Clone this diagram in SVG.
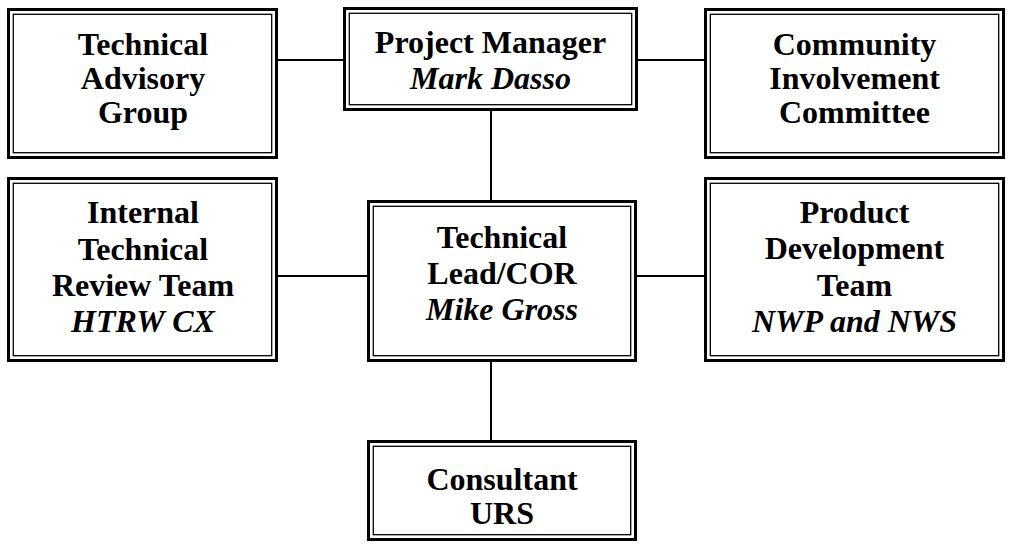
<svg xmlns="http://www.w3.org/2000/svg" width="1012" height="544" viewBox="0 0 1012 544">
  <style>
    .outer { fill: #fff; stroke: #000; stroke-width: 3; }
    .inner { fill: none; stroke: #000; stroke-width: 1.3; }
    .link { stroke: #000; stroke-width: 2; fill: none; }
    text { font-family: "Liberation Serif", "Times New Roman", serif; font-size: 32px; fill: #000; text-anchor: middle; }
    .b { font-weight: bold; }
    .i { font-weight: bold; font-style: italic; }
  </style>

  <!-- connectors -->
  <g id="connectors">
    <line class="link" x1="278" y1="60" x2="343" y2="60"/>
    <line class="link" x1="638" y1="60" x2="704" y2="60"/>
    <line class="link" x1="491" y1="110" x2="491" y2="201"/>
    <line class="link" x1="278" y1="276" x2="367" y2="276"/>
    <line class="link" x1="637" y1="276" x2="704" y2="276"/>
    <line class="link" x1="491" y1="361" x2="491" y2="441"/>
  </g>

  <g id="technical-advisory-group">
    <rect class="outer" x="8.5" y="9.5" width="268" height="148"/>
    <rect class="inner" x="13.3" y="14.3" width="258.4" height="138.4"/>
    <text class="b" x="143" y="55">Technical</text>
    <text class="b" x="143" y="89">Advisory</text>
    <text class="b" x="143" y="123">Group</text>
  </g>

  <g id="project-manager">
    <rect class="outer" x="344.5" y="8.5" width="292" height="101"/>
    <rect class="inner" x="349.3" y="13.3" width="282.4" height="91.4"/>
    <text class="b" x="490.5" y="53">Project Manager</text>
    <text class="i" x="490.5" y="89">Mark Dasso</text>
  </g>

  <g id="community-involvement-committee">
    <rect class="outer" x="705.5" y="9.5" width="298" height="148"/>
    <rect class="inner" x="710.3" y="14.3" width="288.4" height="138.4"/>
    <text class="b" x="854.5" y="55">Community</text>
    <text class="b" x="854.5" y="89">Involvement</text>
    <text class="b" x="854.5" y="123">Committee</text>
  </g>

  <g id="internal-technical-review-team">
    <rect class="outer" x="8.5" y="178.5" width="268" height="182"/>
    <rect class="inner" x="13.3" y="183.3" width="258.4" height="172.4"/>
    <text class="b" x="143" y="223">Internal</text>
    <text class="b" x="143" y="260">Technical</text>
    <text class="b" x="143" y="296">Review Team</text>
    <text class="i" x="143" y="332">HTRW CX</text>
  </g>

  <g id="technical-lead">
    <rect class="outer" x="368.5" y="201.5" width="267" height="159"/>
    <rect class="inner" x="373.3" y="206.3" width="257.4" height="149.4"/>
    <text class="b" x="502" y="248">Technical</text>
    <text class="b" x="502" y="284">Lead/COR</text>
    <text class="i" x="502" y="320">Mike Gross</text>
  </g>

  <g id="product-development-team">
    <rect class="outer" x="705.5" y="178.5" width="298" height="182"/>
    <rect class="inner" x="710.3" y="183.3" width="288.4" height="172.4"/>
    <text class="b" x="854.5" y="223">Product</text>
    <text class="b" x="854.5" y="259">Development</text>
    <text class="b" x="854.5" y="296">Team</text>
    <text class="i" x="854.5" y="332">NWP and NWS</text>
  </g>

  <g id="consultant">
    <rect class="outer" x="368.5" y="441.5" width="267" height="98"/>
    <rect class="inner" x="373.3" y="446.3" width="257.4" height="88.4"/>
    <text class="b" x="502" y="490">Consultant</text>
    <text class="b" x="502" y="524">URS</text>
  </g>
</svg>
